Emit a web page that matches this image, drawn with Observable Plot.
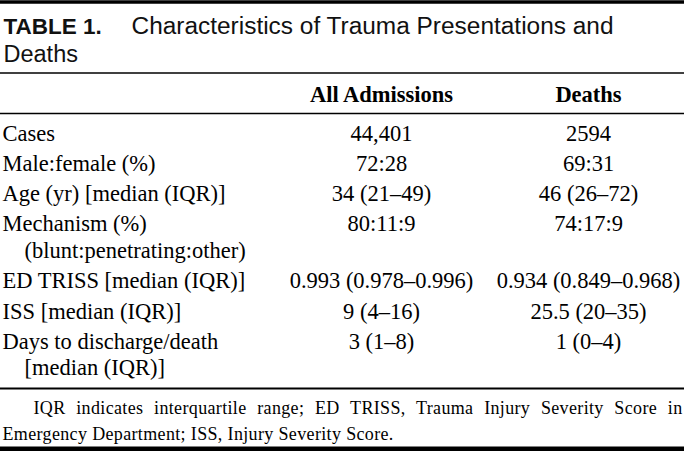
<!DOCTYPE html>
<html>
<head>
<meta charset="utf-8">
<script src="https://cdn.jsdelivr.net/npm/d3@7"></script>
<script src="https://cdn.jsdelivr.net/npm/@observablehq/plot@0.6"></script>
<style>
  html, body { margin: 0; padding: 0; background: #fff; }
  svg { display: block; }
</style>
</head>
<body>
<div id="chart"></div>
<script>
// ---- data ----
const tableLabel = "TABLE 1.";
const tableTitle = ["Characteristics of Trauma Presentations and", "Deaths"];
const columnHeaders = ["All Admissions", "Deaths"];
const rowLabels = [
  ["Cases"],
  ["Male:female (%)"],
  ["Age (yr) [median (IQR)]"],
  ["Mechanism (%)", "(blunt:penetrating:other)"],
  ["ED TRISS [median (IQR)]"],
  ["ISS [median (IQR)]"],
  ["Days to discharge/death", "[median (IQR)]"]
];
const allAdmissions = ["44,401", "72:28", "34 (21\u201349)", "80:11:9", "0.993 (0.978\u20130.996)", "9 (4\u201316)", "3 (1\u20138)"];
const deaths = ["2594", "69:31", "46 (26\u201372)", "74:17:9", "0.934 (0.849\u20130.968)", "25.5 (20\u201335)", "1 (0\u20134)"];
const footnote = [
  "IQR indicates interquartile range; ED TRISS, Trauma Injury Severity Score in",
  "Emergency Department; ISS, Injury Severity Score."
];

// ---- layout (not data) ----
const W = 684, H = 451;
const serif = "'Liberation Serif', 'Times New Roman', serif";
const sans = "'Liberation Sans', Arial, sans-serif";
const L = {
  labelX: 2, indent: 22, colAll: 381, colDeaths: 588,
  titleX: 3, titleTextX: 131, titleY1: 33, titleY2: 61,
  headerY: 101, firstRowY: 140, rowStep: 30.3, contStep: 26.5,
  footX1: 33, footX2: 2, footY1: 413, footY2: 439, footRight: 682,
  bodySize: 22.5, footSize: 18
};

// build body lines
const labelLines = [];
const valueCells = [];
let y = L.firstRowY;
rowLabels.forEach((lines, i) => {
  valueCells.push({text: allAdmissions[i], col: "all", y});
  valueCells.push({text: deaths[i], col: "deaths", y});
  lines.forEach((t, j) => {
    labelLines.push({text: t, y: y + j * L.contStep, cont: j > 0});
    if (j > 0) y += L.contStep;
  });
  y += L.rowStep;
});
const colX = {all: L.colAll, deaths: L.colDeaths};
const headers = columnHeaders.map((t, i) => ({text: t, x: i === 0 ? L.colAll : L.colDeaths}));

const rules = [
  {y: 1.5, w: 3.5},
  {y: 72.5, w: 1.6},
  {y: 113, w: 1.3},
  {y: 388, w: 2},
  {y: 448.5, w: 5}
];

const plot = Plot.plot({
  width: W,
  height: H,
  margin: 0,
  x: {type: "identity", axis: null},
  y: {type: "identity", axis: null},
  style: {background: "#fff", color: "#000", fontFamily: serif},
  marks: [
    Plot.ruleY(rules, {y: "y", x1: 0, x2: W, stroke: "#000", strokeWidth: d => d.w}),
    // title
    Plot.text([tableLabel], {x: L.titleX, y: L.titleY1, text: d => d, textAnchor: "start", lineAnchor: "bottom",
      fontFamily: sans, fontWeight: "bold", fontSize: 22.5, fill: "#111"}),
    Plot.text([tableTitle[0]], {x: L.titleTextX, y: L.titleY1, text: d => d, textAnchor: "start", lineAnchor: "bottom",
      fontFamily: sans, fontSize: 23.5, fill: "#111", className: "title1"}),
    Plot.text([tableTitle[1]], {x: L.titleX, y: L.titleY2, text: d => d, textAnchor: "start", lineAnchor: "bottom",
      fontFamily: sans, fontSize: 23.5, fill: "#111"}),
    // column headers
    Plot.text(headers, {x: "x", y: L.headerY, text: "text", textAnchor: "middle", lineAnchor: "bottom",
      fontFamily: serif, fontWeight: "bold", fontSize: L.bodySize, fill: "#000"}),
    // row labels
    Plot.text(labelLines, {x: d => L.labelX + (d.cont ? L.indent : 0), y: "y", text: "text", textAnchor: "start",
      lineAnchor: "bottom", fontFamily: serif, fontSize: L.bodySize, fill: "#000"}),
    // values
    Plot.text(valueCells, {x: d => colX[d.col], y: "y", text: "text", textAnchor: "middle",
      lineAnchor: "bottom", fontFamily: serif, fontSize: L.bodySize, fill: "#000"}),
    // footnote
    Plot.text([footnote[0]], {x: L.footX1, y: L.footY1, text: d => d, textAnchor: "start", lineAnchor: "bottom",
      fontFamily: serif, fontSize: L.footSize, fill: "#000", className: "foot1"}),
    Plot.text([footnote[1]], {x: L.footX2, y: L.footY2, text: d => d, textAnchor: "start", lineAnchor: "bottom",
      fontFamily: serif, fontSize: L.footSize, fill: "#000", className: "foot2"})
  ]
});

document.getElementById("chart").appendChild(plot);

// slight letter spacing on footnote, justify first line via word spacing; fit title width
d3.select(plot).selectAll(".foot1 text, .foot2 text").style("letter-spacing", "0.35px");
d3.select(plot).selectAll(".foot1 text").each(function () {
  const natural = this.getComputedTextLength();
  const spaces = (this.textContent.match(/ /g) || []).length;
  const extra = Math.max(0, (L.footRight - L.footX1) - natural);
  if (spaces) this.style.wordSpacing = (extra / spaces) + "px";
});
d3.select(plot).selectAll(".title1 text").attr("textLength", 613 - L.titleTextX).attr("lengthAdjust", "spacingAndGlyphs");
</script>
</body>
</html>
